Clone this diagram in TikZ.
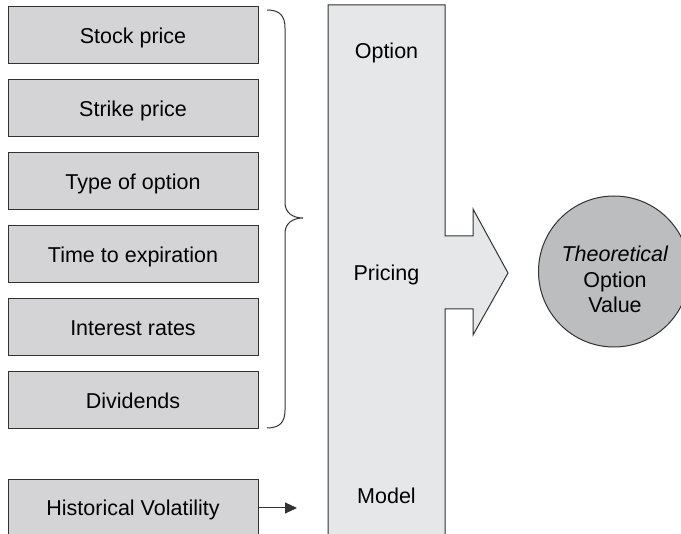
\documentclass[tikz,border=0pt]{standalone}
\usepackage{fontspec}
\setmainfont{Liberation Sans}
\usetikzlibrary{arrows.meta}
\definecolor{boxgray}{RGB}{212,212,214}
\definecolor{colgray}{RGB}{230,231,232}
\definecolor{valgray}{RGB}{188,189,191}
\definecolor{linegray}{RGB}{50,50,50}
\tikzset{
  inputbox/.style={draw=linegray, fill=boxgray, line width=1pt,
    minimum width=250pt, minimum height=57pt,
    text height=15.5pt, text depth=0pt, inner sep=0pt},
}
\begin{document}
\begin{tikzpicture}[x=1pt, y=-1pt, font=\fontsize{21.5}{25.5}\selectfont,
    >={Triangle[length=12pt,width=11pt]}]
    \useasboundingbox (0,0) rectangle (681,534);
    % Input boxes
    \node[inputbox] (stock) at (133,35.5) {Stock price};
    \node[inputbox] (strike) at (133,108.5) {Strike price};
    \node[inputbox] (type) at (133,181.5) {Type of option};
    \node[inputbox] (time) at (133,254.5) {Time to expiration};
    \node[inputbox] (rates) at (133,327.5) {Interest rates};
    \node[inputbox] (divs) at (133,400.5) {Dividends};
    \node[inputbox] (hist) at (133,508) {Historical Volatility};
    % Brace
    \draw[linegray, line width=1pt] (267,10) .. controls (280,10) and (285,16) .. (285,28)
        -- (285,203) .. controls (285,212) and (292,218) .. (303,218)
        .. controls (292,218) and (285,224) .. (285,233)
        -- (285,410) .. controls (285,422) and (280,428) .. (267,428);
    % Pricing model column with arrow
    \draw[linegray, fill=colgray, line width=1pt] (328,5) -- (445,5) -- (445,236)
        -- (473,236) -- (473,209) -- (508,273) -- (473,335) -- (473,309)
        -- (445,309) -- (445,545) -- (328,545) -- cycle;
    \node[anchor=base] (option) at (386.5,59) {Option};
    \node[anchor=base] (pricing) at (386.5,281) {Pricing};
    \node[anchor=base] (model) at (386.5,504) {Model};
    % Theoretical value
    \node[circle, draw=linegray, fill=valgray, line width=1pt, minimum size=151pt]
        (value) at (614,271.5) {};
    \node[align=center, anchor=base] (valuetext) at (615,313)
        {\textit{Theoretical}\\Option\\Value};
    % Volatility arrow
    \coordinate (histend) at (297,508);
    \draw[->, linegray, line width=1pt] (hist.east) -- (histend);
\end{tikzpicture}
\end{document}
